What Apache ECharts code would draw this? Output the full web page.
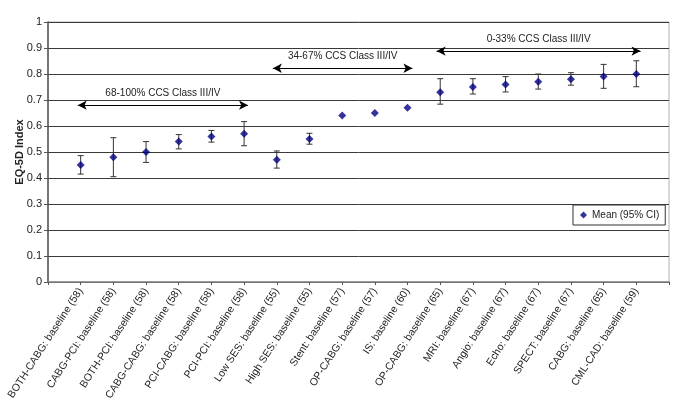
<!DOCTYPE html>
<html>
<head>
<meta charset="utf-8">
<script src="https://cdn.jsdelivr.net/npm/echarts@6/dist/echarts.min.js"></script>
<style>
  html, body { margin: 0; padding: 0; background: #fff; }
  #chart { width: 685px; height: 418px; }
</style>
</head>
<body>
<div id="chart"></div>
<script>
// categories along the x axis
const categories = [
  'BOTH-CABG: baseline (58)', 'CABG-PCI: baseline (58)', 'BOTH-PCI: baseline (58)',
  'CABG-CABG: baseline (58)', 'PCI-CABG: baseline (58)', 'PCI-PCI: baseline (58)',
  'Low SES: baseline (55)', 'High SES: baseline (55)', 'Stent: baseline (57)',
  'OP-CABG: baseline (57)', 'IS: baseline (60)', 'OP-CABG: baseline (65)',
  'MRI: baseline (67)', 'Angio: baseline (67)', 'Echo: baseline (67)',
  'SPECT: baseline (67)', 'CABG: baseline (65)', 'CML-CAD: baseline (59)'
];

// mean EQ-5D index and 95% CI
const means = [0.45, 0.48, 0.50, 0.54, 0.56, 0.57, 0.47, 0.55, 0.64, 0.65, 0.67, 0.73, 0.75, 0.76, 0.77, 0.78, 0.79, 0.80];
const lower = [0.415, 0.405, 0.46, 0.512, 0.538, 0.524, 0.438, 0.53, null, null, null, 0.684, 0.723, 0.731, 0.742, 0.757, 0.745, 0.751];
const upper = [0.486, 0.555, 0.54, 0.567, 0.583, 0.617, 0.504, 0.572, null, null, null, 0.782, 0.782, 0.79, 0.80, 0.805, 0.837, 0.851];

// bracket annotations: [xStart, xEnd, y]
const groupLabels = ['68-100% CCS Class III/IV', '34-67% CCS Class III/IV', '0-33% CCS Class III/IV'];
const groupSpans = [[0.91, 6.12, 0.68], [6.88, 11.15, 0.822], [11.89, 18.13, 0.888]];

const yTicks = ['0', '0.1', '0.2', '0.3', '0.4', '0.5', '0.6', '0.7', '0.8', '0.9', '1'];

const chart = echarts.init(document.getElementById('chart'));

const font = 'Liberation Sans, Arial, sans-serif';

const scatterData = means.map((m, i) => [i + 1, m]);
const errData = means.map((m, i) => [i + 1, lower[i], upper[i]]);

const markLines = groupSpans.map((s, i) => ([
  {
    coord: [s[0], s[2]],
    label: {
      show: true,
      position: 'insideMiddleTop',
      distance: 7,
      formatter: groupLabels[i],
      color: '#222',
      fontSize: 10,
      fontFamily: font
    }
  },
  { coord: [s[1], s[2]] }
]));

const option = {
  animation: false,
  grid: {
    left: 48,
    right: 16,
    top: 22,
    bottom: 136,
    outerBoundsMode: 'none',
    show: true,
    borderColor: '#b0b0b0',
    borderWidth: 1
  },
  legend: {
    data: ['Mean (95% CI)'],
    left: 573,
    top: 205,
    orient: 'vertical',
    borderColor: '#333',
    borderWidth: 1,
    padding: [5, 6, 5, 7],
    itemWidth: 7,
    itemHeight: 7,
    itemGap: 0,
    backgroundColor: '#fff',
    textStyle: { fontSize: 10, fontFamily: font, color: '#222' }
  },
  xAxis: {
    type: 'value',
    min: 0,
    max: 19,
    interval: 1,
    splitLine: { show: false },
    axisLine: { lineStyle: { color: '#888', width: 1.5 } },
    axisTick: { show: true, length: 3, lineStyle: { color: '#555' } },
    axisLabel: {
      rotate: 57,
      fontSize: 10.5,
      fontFamily: font,
      color: '#222',
      margin: 7,
      showMinLabel: true,
      showMaxLabel: true,
      formatter: v => categories[v - 1] || ''
    }
  },
  yAxis: {
    type: 'value',
    min: 0,
    max: 1,
    interval: 0.1,
    name: 'EQ-5D Index',
    nameLocation: 'middle',
    nameGap: 23,
    nameMoveOverlap: false,
    nameRotate: 90,
    nameTextStyle: { fontSize: 11, fontWeight: 'bold', fontFamily: font, color: '#222' },
    axisLine: { show: true, lineStyle: { color: '#555', width: 1.5 } },
    axisTick: { show: true, length: 4, lineStyle: { color: '#555' } },
    splitLine: { lineStyle: { color: '#3a3a3a', width: 1 } },
    axisLabel: {
      fontSize: 11,
      fontFamily: font,
      color: '#222',
      margin: 6,
      formatter: v => yTicks[Math.round(v * 10)]
    }
  },
  series: [
    {
      name: 'CI',
      type: 'custom',
      data: errData,
      z: 3,
      renderItem: (params, api) => {
        const lo = api.value(1), hi = api.value(2);
        if (lo == null || hi == null || isNaN(lo) || isNaN(hi)) return;
        const p1 = api.coord([api.value(0), hi]);
        const p2 = api.coord([api.value(0), lo]);
        const w = 3;
        const style = { stroke: '#333', lineWidth: 1 };
        return {
          type: 'group',
          children: [
            { type: 'line', shape: { x1: p1[0], y1: p1[1], x2: p2[0], y2: p2[1] }, style },
            { type: 'line', shape: { x1: p1[0] - w, y1: p1[1], x2: p1[0] + w, y2: p1[1] }, style },
            { type: 'line', shape: { x1: p2[0] - w, y1: p2[1], x2: p2[0] + w, y2: p2[1] }, style }
          ]
        };
      }
    },
    {
      name: 'Mean (95% CI)',
      type: 'scatter',
      symbol: 'diamond',
      symbolSize: 8,
      z: 4,
      itemStyle: { color: '#000080' },
      data: scatterData,
      markLine: {
        silent: true,
        symbol: ['arrow', 'arrow'],
        symbolSize: [7, 9],
        lineStyle: { color: '#000', width: 1.2, type: 'solid' },
        data: markLines
      }
    }
  ]
};

chart.setOption(option);
</script>
</body>
</html>
